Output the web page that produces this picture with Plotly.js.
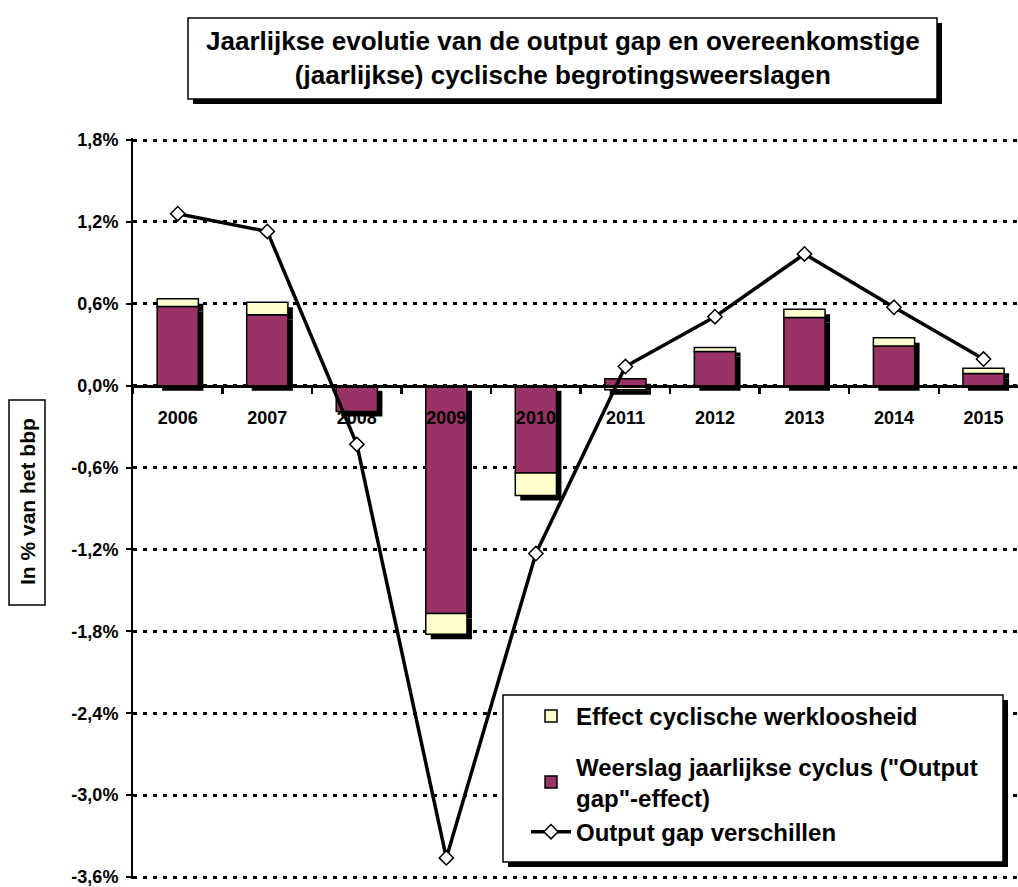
<!DOCTYPE html>
<html>
<head>
<meta charset="utf-8">
<script src="https://cdn.plot.ly/plotly-3.0.1.min.js"></script>
<style>
  html, body { margin: 0; padding: 0; background: #ffffff; }
  #chart { width: 1018px; height: 887px; }
</style>
</head>
<body>
<div id="chart"></div>
<script>
// ---- data ----
const years = ['2006', '2007', '2008', '2009', '2010', '2011', '2012', '2013', '2014', '2015'];
const outputGapEffect = [0.58, 0.52, -0.19, -1.67, -0.64, 0.05, 0.25, 0.50, 0.29, 0.09];
const unemploymentEffect = [0.056, 0.092, 0.0, -0.151, -0.164, -0.03, 0.03, 0.059, 0.061, 0.037];
const outputGapDiff = [1.26, 1.13, -0.43, -3.46, -1.23, 0.14, 0.505, 0.965, 0.574, 0.195];
const yTickVals = [1.8, 1.2, 0.6, 0.0, -0.6, -1.2, -1.8, -2.4, -3.0, -3.6];
const yTickText = ['1,8%', '1,2%', '0,6%', '0,0%', '-0,6%', '-1,2%', '-1,8%', '-2,4%', '-3,0%', '-3,6%'];
const seriesNames = ['Effect cyclische werkloosheid', 'Weerslag jaarlijkse cyclus ("Output<br>gap"-effect)', 'Output gap verschillen'];
const titleText = 'Jaarlijkse evolutie van de output gap en overeenkomstige<br>(jaarlijkse) cyclische begrotingsweerslagen';
const yTitleText = 'In % van het bbp';

// ---- geometry ----
const W = 1018, H = 887;
const plotLeft = 133, plotTop = 140, plotBottom = 877;   // pixel rows of 1,8% and -3,6%
const baseRange = [-3.6, 1.8];
const pxPerUnit = (plotBottom - plotTop) / (baseRange[1] - baseRange[0]);
const padPx = 2; // small padding so the edge gridlines are kept
const M = { l: plotLeft, r: 0, t: plotTop - padPx, b: H - plotBottom - padPx };
const plotW = W - M.l - M.r, plotH = H - M.t - M.b;
const xRange = [-0.5, 9.385];
const yRange = [baseRange[0] - padPx / pxPerUnit, baseRange[1] + padPx / pxPerUnit];
const shadowPx = 5;
const dxUnits = shadowPx * (xRange[1] - xRange[0]) / plotW;
const dyUnits = shadowPx / pxPerUnit;
const px2x = p => (p - M.l) / plotW;
const px2y = p => (H - M.b - p) / plotH;

const FONT = 'Arial, "Liberation Sans", Helvetica, sans-serif';
const PURPLE = '#993366';
const YELLOW = '#FFFFCC';

const traces = [
  // shadows (main subplot, drawn first, offset down-right)
  { type: 'bar', x: years, y: outputGapEffect, xaxis: 'x', yaxis: 'y',
    marker: { color: '#000000', line: { width: 0 } }, showlegend: false, hoverinfo: 'skip' },
  { type: 'bar', x: years, y: unemploymentEffect, xaxis: 'x', yaxis: 'y',
    marker: { color: '#000000', line: { width: 0 } }, showlegend: false, hoverinfo: 'skip' },
  // real bars
  { type: 'bar', name: seriesNames[1], x: years, y: outputGapEffect, xaxis: 'x2', yaxis: 'y2',
    marker: { color: PURPLE, line: { color: '#000000', width: 1.5 } },
    legendrank: 2, legendgroup: 'b' },
  { type: 'bar', name: seriesNames[0], x: years, y: unemploymentEffect, xaxis: 'x2', yaxis: 'y2',
    marker: { color: YELLOW, line: { color: '#000000', width: 1.5 } },
    legendrank: 1, legendgroup: 'a' },
  { type: 'scatter', mode: 'lines+markers', name: seriesNames[2], x: years, y: outputGapDiff,
    xaxis: 'x2', yaxis: 'y2',
    line: { color: '#000000', width: 3.5 },
    marker: { symbol: 'diamond', size: 11, color: '#ffffff', line: { color: '#000000', width: 1.5 } },
    legendrank: 3, legendgroup: 'b' }
];

function rect(x0, y0, x1, y1, fill, lineW) {
  return { type: 'rect', xref: 'paper', yref: 'paper', layer: 'above',
    x0: px2x(x0), x1: px2x(x1), y0: px2y(y1), y1: px2y(y0),
    fillcolor: fill, line: { color: '#000000', width: lineW } };
}

const layout = {
  width: W, height: H,
  margin: M,
  paper_bgcolor: '#ffffff', plot_bgcolor: '#ffffff',
  font: { family: FONT, color: '#000000', size: 16, weight: 'bold' },
  barmode: 'relative',
  bargap: 0.54,
  showlegend: true,
  xaxis: { type: 'category', categoryarray: years, range: [xRange[0] - dxUnits, xRange[1] - dxUnits],
    visible: false, fixedrange: true },
  yaxis: { range: [yRange[0] + dyUnits, yRange[1] + dyUnits], visible: false, fixedrange: true },
  xaxis2: { type: 'category', categoryarray: years, overlaying: 'x', anchor: 'free',
    position: (0 - yRange[0]) / (yRange[1] - yRange[0]),
    range: xRange, showline: true, linecolor: '#000000', linewidth: 3.5,
    ticks: 'outside', tickson: 'boundaries', ticklen: 6, tickwidth: 2.5, tickcolor: '#000000',
    showgrid: false, zeroline: false, ticklabelstandoff: 14,
    tickfont: { family: FONT, size: 18, weight: 'bold', color: '#000000' }, fixedrange: true },
  yaxis2: { overlaying: 'y', anchor: 'x2', side: 'left', range: yRange,
    tickvals: yTickVals, ticktext: yTickText, ticklabeloverflow: 'allow',
    showline: true, linecolor: '#000000', linewidth: 2,
    ticks: 'outside', ticklen: 5, tickwidth: 2, tickcolor: '#000000',
    showgrid: true, gridcolor: '#000000', gridwidth: 3, griddash: '4px,6px',
    zeroline: false, ticklabelstandoff: 4,
    tickfont: { family: FONT, size: 18, weight: 'bold', color: '#000000' }, fixedrange: true },
  legend: {
    x: px2x(526), y: px2y(694), xanchor: 'left', yanchor: 'top',
    bgcolor: 'rgba(0,0,0,0)', borderwidth: 0,
    font: { family: FONT, size: 24, weight: 'bold', color: '#000000' },
    tracegroupgap: 16, itemwidth: 40, traceorder: 'grouped'
  },
  shapes: [
    rect(193, 23, 942, 104, '#000000', 0),
    rect(188, 18, 937, 99, '#ffffff', 1.5),
    rect(508, 700, 1008, 867, '#000000', 0),
    rect(503, 695, 1003, 862, '#ffffff', 1.5),
    rect(9, 400, 45, 605, '#ffffff', 1.5)
  ],
  annotations: [
    { xref: 'paper', yref: 'paper', x: px2x(562.5), y: px2y(58), xanchor: 'center', yanchor: 'middle',
      text: titleText, showarrow: false,
      font: { family: FONT, size: 26, weight: 'bold', color: '#000000' } },
    { xref: 'paper', yref: 'paper', x: px2x(27), y: px2y(502), xanchor: 'center', yanchor: 'middle',
      text: yTitleText, textangle: -90, showarrow: false,
      font: { family: FONT, size: 21, weight: 'bold', color: '#000000' } }
  ]
};

Plotly.newPlot('chart', traces, layout, { displayModeBar: false, staticPlot: true });
</script>
</body>
</html>
